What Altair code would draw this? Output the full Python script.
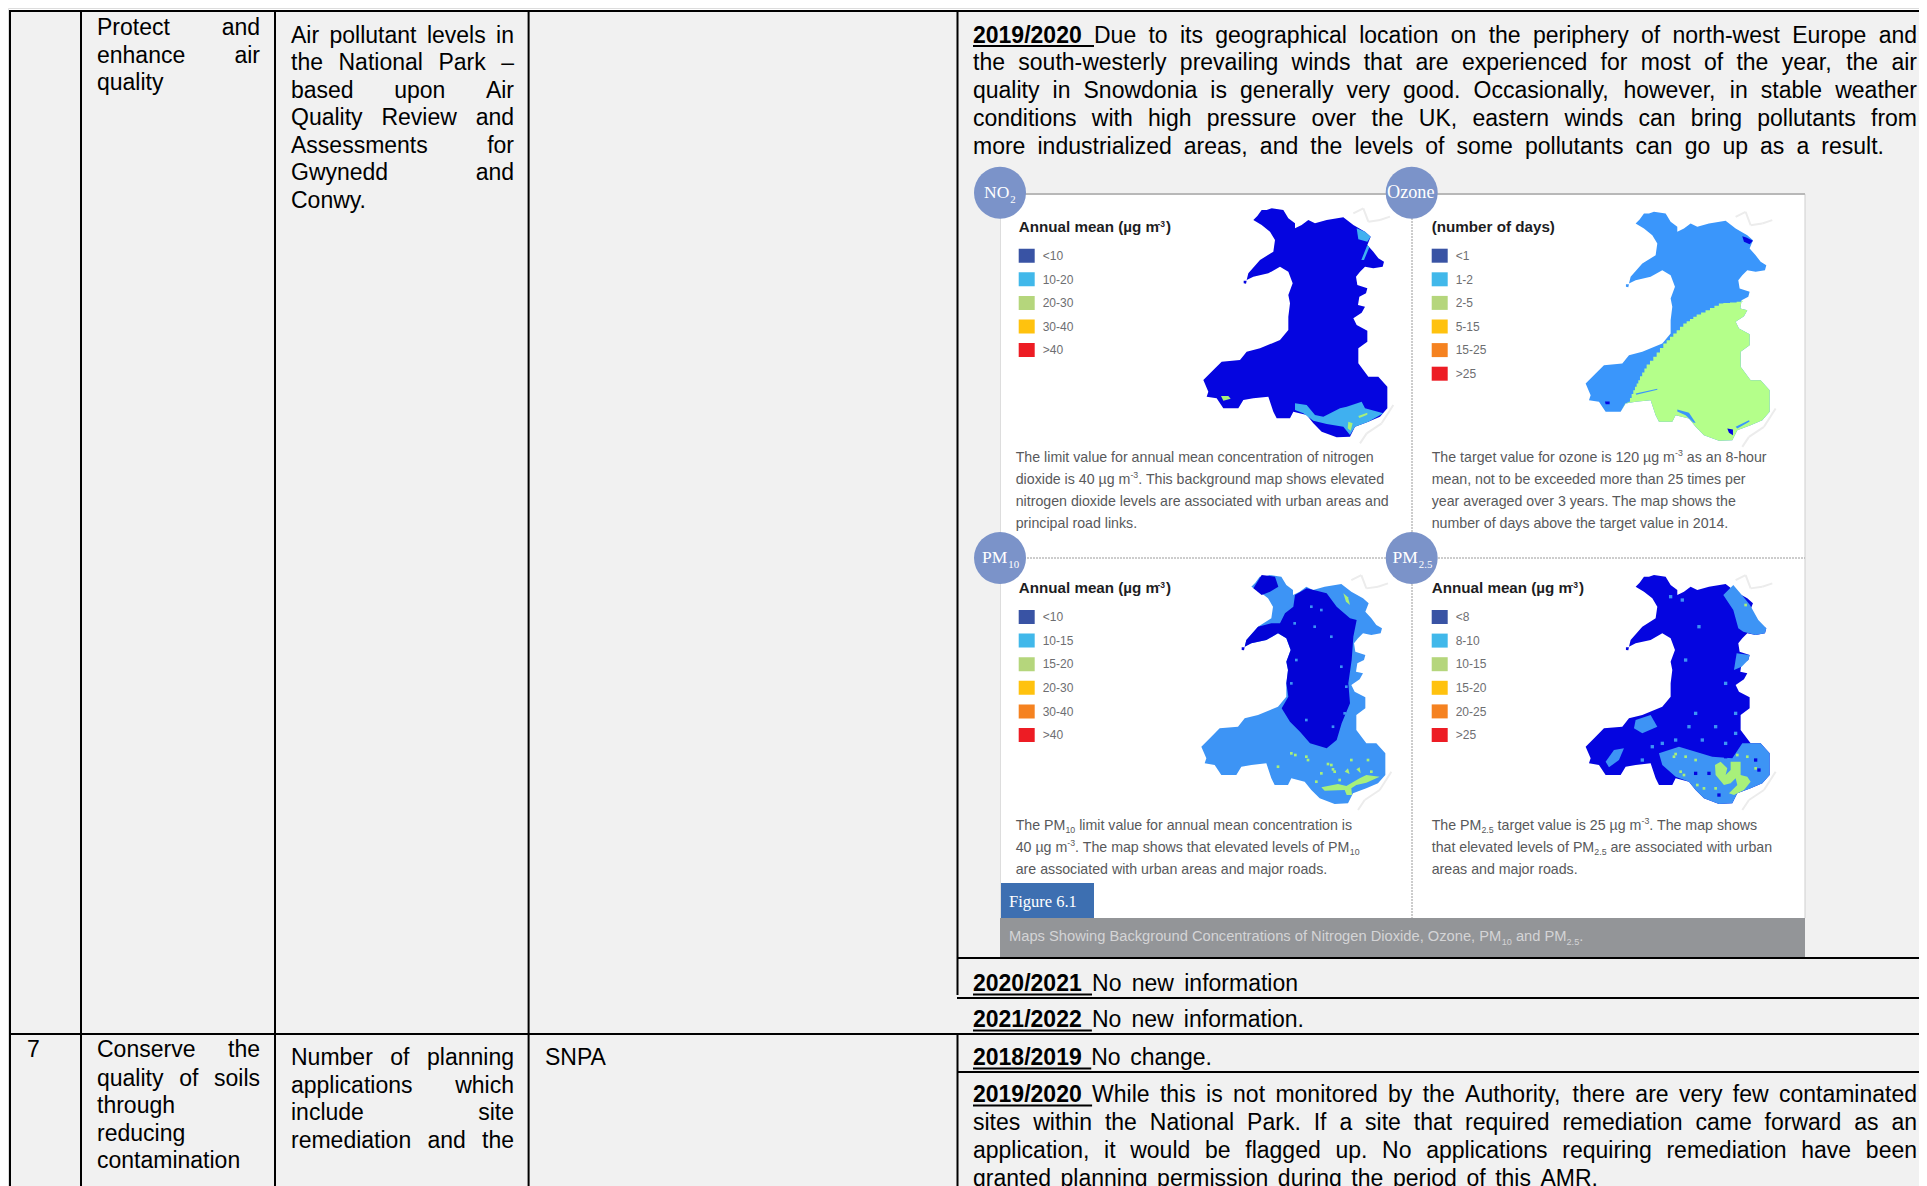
import altair as alt

# ---------- page geometry helpers ----------
W, H = 1919, 1186
SANS, SERIF = "Liberation Sans", "Liberation Serif"
X = alt.X("x:Q", scale=alt.Scale(domain=[8, W], nice=False, zero=False), axis=None)
Y = alt.Y("y:Q", scale=alt.Scale(domain=[H, 8], nice=False, zero=False), axis=None)

AFM = {" ":278,"!":278,"%":889,"'":191,"(":333,")":333,",":278,"-":333,".":278,"/":278,":":278,"<":584,">":584,
"A":667,"B":667,"C":722,"D":722,"E":667,"F":611,"G":778,"H":722,"I":278,"J":500,"K":667,"L":556,"M":833,"N":722,"O":778,
"P":667,"Q":778,"R":722,"S":667,"T":611,"U":722,"V":667,"W":944,"X":667,"Y":667,"Z":611,
"a":556,"b":556,"c":500,"d":556,"e":556,"f":278,"g":556,"h":556,"i":222,"j":222,"k":500,"l":222,"m":833,"n":556,"o":556,
"p":556,"q":556,"r":333,"s":500,"t":278,"u":556,"v":500,"w":722,"x":500,"y":500,"z":500,"–":556,"µ":576}

def tw(s, size):
    return sum(AFM.get(c, 556) for c in s) / 1000 * size

texts = []
underlines = []

def put(x, y, t, size=23, color="#000000", font=SANS, weight="normal"):
    texts.append(dict(x=x, y=y, t=t, size=size, color=color, font=font, weight=weight))

def justified(line, x0, x1, y, size=23, lead=None, just=True, color="#000000"):
    """Word-spaced body line, optionally led by an underlined bold year."""
    words = line.split(" ")
    items = []
    if lead:
        items.append((lead, tw(lead, size), True))
    items += [(w, tw(w, size), False) for w in words]
    total = sum(i[1] for i in items)
    gap = (x1 - x0 - total) / (len(items) - 1) if just and len(items) > 1 else size * 0.278
    x = x0
    for n, (w, wd, bold) in enumerate(items):
        put(x, y, w, size, color, SANS, "bold" if bold else "normal")
        if bold:
            underlines.append(dict(x=x, x2=x + wd + gap, y=y + 3.5, y2=y + 3.5))
        x += wd + gap

# ---------- table text ----------
C2, C2R = 97, 260
C3, C3R = 291, 514
C5, C5R = 973, 1917
GOAL_A = ["Protect and", "enhance air", "quality"]
GOAL_A_Y = [35, 63, 90]
IND_A = ["Air pollutant levels in", "the National Park –", "based upon Air", "Quality Review and",
         "Assessments for", "Gwynedd and", "Conwy."]
IND_A_Y = [42.5, 70, 98, 125, 153, 180, 207.5]
GOAL_B = ["Conserve the", "quality of soils", "through", "reducing", "contamination"]
GOAL_B_Y = [1057, 1086, 1113, 1141, 1168]
IND_B = ["Number of planning", "applications which", "include site", "remediation and the"]
IND_B_Y = [1065, 1093, 1120, 1148]
PARA_A = ["Due to its geographical location on the periphery of north-west Europe and",
          "the south-westerly prevailing winds that are experienced for most of the year, the air",
          "quality in Snowdonia is generally very good. Occasionally, however, in stable weather",
          "conditions with high pressure over the UK, eastern winds can bring pollutants from"]
PARA_A_Y = [42.5, 70, 98, 126]
PARA_A_LAST = "more industrialized areas, and the levels of some pollutants can go up as a result."
PARA_B = ["While this is not monitored by the Authority, there are very few contaminated",
          "sites within the National Park. If a site that required remediation came forward as an",
          "application, it would be flagged up. No applications requiring remediation have been"]
PARA_B_Y = [1102, 1130, 1158]
PARA_B_LAST = "granted planning permission during the period of this AMR."

for l, y, j in zip(GOAL_A, GOAL_A_Y, [1, 1, 0]):
    justified(l, C2, C2R, y, just=bool(j))
for n, (l, y) in enumerate(zip(IND_A, IND_A_Y)):
    justified(l, C3, C3R, y, just=n < 6)
for l, y, j in zip(GOAL_B, GOAL_B_Y, [1, 1, 0, 0, 0]):
    justified(l, C2, C2R, y, just=bool(j))
for l, y in zip(IND_B, IND_B_Y):
    justified(l, C3, C3R, y)
put(27, 1057, "7")
put(545, 1065, "SNPA")
for n, (l, y) in enumerate(zip(PARA_A, PARA_A_Y)):
    justified(l, C5, C5R, y, lead="2019/2020" if n == 0 else None)
justified(PARA_A_LAST, C5, 1884, 153.5)
justified("No new information", C5, 1298, 991, lead="2020/2021")
justified("No new information.", C5, 1304, 1027, lead="2021/2022")
justified("No change.", C5, 1212, 1065, lead="2018/2019")
for n, (l, y) in enumerate(zip(PARA_B, PARA_B_Y)):
    justified(l, C5, C5R, y, lead="2019/2020" if n == 0 else None)
justified(PARA_B_LAST, C5, 1598, 1186)

# ---------- figure ----------
LEG_COL = {"navy": "#3953a4", "sky": "#41b8ea", "lime": "#b5d67c", "amber": "#ffc20e", "orange": "#f58220", "red": "#ed1c24"}
NO2_LEG = [("navy", "<10"), ("sky", "10-20"), ("lime", "20-30"), ("amber", "30-40"), ("red", ">40")]
O3_LEG = [("navy", "<1"), ("sky", "1-2"), ("lime", "2-5"), ("amber", "5-15"), ("orange", "15-25"), ("red", ">25")]
PM10_LEG = [("navy", "<10"), ("sky", "10-15"), ("lime", "15-20"), ("amber", "20-30"), ("orange", "30-40"), ("red", ">40")]
PM25_LEG = [("navy", "<8"), ("sky", "8-10"), ("lime", "10-15"), ("amber", "15-20"), ("orange", "20-25"), ("red", ">25")]

NO2_NOTE = [[("The limit value for annual mean concentration of nitrogen", "n")],
            [("dioxide is 40 µg m", "n"), ("-3", "u"), (". This background map shows elevated", "n")],
            [("nitrogen dioxide levels are associated with urban areas and", "n")],
            [("principal road links.", "n")]]
O3_NOTE = [[("The target value for ozone is 120 µg m", "n"), ("-3", "u"), (" as an 8-hour", "n")],
           [("mean, not to be exceeded more than 25 times per", "n")],
           [("year averaged over 3 years. The map shows the", "n")],
           [("number of days above the target value in 2014.", "n")]]
PM10_NOTE = [[("The PM", "n"), ("10", "d"), (" limit value for annual mean concentration is", "n")],
             [("40 µg m", "n"), ("-3", "u"), (". The map shows that elevated levels of PM", "n"), ("10", "d")],
             [("are associated with urban areas and major roads.", "n")]]
PM25_NOTE = [[("The PM", "n"), ("2.5", "d"), (" target value is 25 µg m", "n"), ("-3", "u"), (". The map shows", "n")],
             [("that elevated levels of PM", "n"), ("2.5", "d"), (" are associated with urban", "n")],
             [("areas and major roads.", "n")]]
CAPTION = [("Maps Showing Background Concentrations of Nitrogen Dioxide, Ozone, PM", "n"), ("10", "d"),
           (" and PM", "n"), ("2.5", "d"), (".", "n")]

def rich(segs, x, y, size, color, font=SANS, weight="normal"):
    for s, kind in segs:
        sz = size if kind == "n" else size * 0.62
        dy = {"n": 0, "u": -size * 0.38, "d": size * 0.28}[kind]
        lead = len(s) - len(s.lstrip(" "))
        x += tw(" " * lead, sz)
        put(x, y + dy, s.strip(" "), sz, color, font, weight)
        x += tw(s.strip(" "), sz)

rects = [dict(x=10, x2=W, y=11, y2=H, c="#f1f1f1"),
         dict(x=1000, x2=1805, y=194, y2=918, c="#ffffff"),
         dict(x=1000, x2=1805, y=918, y2=957, c="#939598"),
         dict(x=1000, x2=1094, y=883, y2=918, c="#3d6fb1")]

PANEL_NOTE_Y = {"top": [461.5, 483.5, 505.5, 527.5], "bot": [829.5, 851.5, 873.5]}
panels = [
    dict(leg=NO2_LEG, note=NO2_NOTE, title="Annual mean (µg m", lx=1018.7, nx=1015.7, ty=231.5, ly0=255.7, ny=PANEL_NOTE_Y["top"], off=(0, 0)),
    dict(leg=O3_LEG, note=O3_NOTE, title="(number of days)", lx=1431.7, nx=1431.7, ty=231.5, ly0=255.7, ny=PANEL_NOTE_Y["top"], off=(382.3, 3.5)),
    dict(leg=PM10_LEG, note=PM10_NOTE, title="Annual mean (µg m", lx=1018.7, nx=1015.7, ty=593.3, ly0=617, ny=PANEL_NOTE_Y["bot"], off=(-2, 366.7)),
    dict(leg=PM25_LEG, note=PM25_NOTE, title="Annual mean (µg m", lx=1431.7, nx=1431.7, ty=593.3, ly0=617, ny=PANEL_NOTE_Y["bot"], off=(382.3, 366.7)),
]
TITLE_SIZE = 15.2
for p in panels:
    put(p["lx"], p["ty"], p["title"], TITLE_SIZE, "#1d1d1f", SANS, "bold")
    if p["title"].startswith("Annual"):
        tx = p["lx"] + tw(p["title"], TITLE_SIZE) * 1.04 + 0.5
        put(tx, p["ty"] - 5, "-3", 8.5, "#1d1d1f", SANS, "bold")
        put(tx + 8.5, p["ty"], ")", TITLE_SIZE, "#1d1d1f", SANS, "bold")
    for i, (key, lab) in enumerate(p["leg"]):
        cy = p["ly0"] + i * 23.6
        rects.append(dict(x=p["lx"], x2=p["lx"] + 16, y=cy - 7, y2=cy + 7, c=LEG_COL[key]))
        put(p["lx"] + 24, cy + 4.2, lab, 12, "#6d6e71")
    for segs, y in zip(p["note"], p["ny"]):
        rich(segs, p["nx"], y, 14.2, "#58595b")

rich(CAPTION, 1009, 941, 14.7, "#d4d4d6")
put(1009, 907, "Figure 6.1", 16.5, "#ffffff", SERIF)

BADGES = [(1000, 192.7), (1411.7, 192.7), (1000, 558), (1411.7, 558)]
badge_rows = [dict(x=a, y=b) for a, b in BADGES]
rich([("NO", "n"), ("2", "d")], 984, 198, 17.5, "#ffffff", SERIF)
rich([("Ozone", "n")], 1387, 198, 18.2, "#ffffff", SERIF)
rich([("PM", "n"), ("10", "d")], 982, 563, 17.5, "#ffffff", SERIF)
rich([("PM", "n"), ("2.5", "d")], 1392.5, 563, 17.5, "#ffffff", SERIF)

# ---------- map outlines (traced in a common frame, 1/3 px) ----------
COAST = [(880,180),(892,168),(905,150),(920,150),(935,145),(955,148),(970,150),(985,175),(1005,190),(1005,205),(1025,195),(1045,180),
 (1065,190),(1100,180),(1150,172),(1180,195),(1215,215),(1232,230),(1222,255),(1240,275),(1255,295),(1272,305),(1268,320),
 (1240,325),(1215,320),(1200,335),(1188,350),(1192,375),(1222,385),(1218,400),(1198,410),(1194,435),(1215,440),(1205,458),
 (1180,475),(1190,495),(1222,512),(1222,545),(1195,565),(1195,610),(1225,650),(1255,650),(1282,680),(1282,745),(1260,770),
 (1225,785),(1185,800),(1170,830),(1130,832),(1085,815),(1060,790),(1040,765),(1000,755),(990,775),(950,775),(940,755),
 (925,710),(880,715),(850,720),(835,745),(790,745),(770,715),(740,710),(745,695),(730,660),(760,630),(785,605),(840,600),
 (860,575),(900,565),(960,540),(985,510),(985,470),(990,430),(985,405),(998,370),(985,335),(960,320),(925,340),(880,350),
 (860,360),(865,340),(900,300),(940,275),(945,240),(930,215),(905,195)]
ISLE = [(851,362),(860,362),(858,371),(851,370)]

NO2_SKY = [[(1190,205),(1215,215),(1232,230),(1222,245),(1195,238)],
           [(1222,255),(1228,262),(1212,300),(1204,300)],
           [(1005,730),(1040,735),(1065,765),(1090,770),(1140,745),(1160,740),(1205,725),(1215,745),(1270,760),(1225,785),(1185,800),
            (1170,825),(1150,800),(1100,792),(1060,782),(1030,760),(1005,750)]]
NO2_LIME = [[(783,708),(805,708),(812,716),(790,722)], [(1165,785),(1178,790),(1172,812),(1163,805)], [(1195,768),(1222,758),(1222,764),(1198,774)]]

O3_LINE = [(1203,415),(1143,420),(1103,440),(1063,460),(1033,480),(1003,510),(973,540),(943,580),(913,615),(893,650),(878,680),(863,715),(850,720)]
O3_SOUTH = [(835,745),(850,720),(880,715),(925,710),(940,755),(950,775),(990,775),(1000,755),(1040,765),(1060,790),(1085,815),
            (1130,832),(1170,830),(1185,800),(1225,785),(1260,770),(1282,745),(1282,680),(1255,650),(1225,650),(1195,610),(1195,565),
            (1222,545),(1222,512),(1190,495),(1180,475),(1205,458),(1215,440),(1194,435),(1198,410)]

def stairs(line, steps=3):
    out = []
    for (a, b), (c, d) in zip(line, line[1:]):
        for k in range(steps):
            out.append((a + (c - a) * k / steps, b + (d - b) * k / steps))
            out.append((a + (c - a) * (k + 1) / steps, b + (d - b) * k / steps))
    return out

O3_LIME = [stairs(O3_LINE) + O3_SOUTH]
O3_NAVY = [[(1200,218),(1212,222),(1232,232),(1222,242),(1205,235)], [(788,714),(802,714),(802,722),(790,722)],
           [(1155,795),(1172,798),(1172,815),(1160,808)]]
O3_BLUE = [[(880,690),(945,676),(945,679),(882,694)], [(1005,738),(1040,748),(1060,778),(1054,778),(1030,755),(1005,744)],
           [(1180,790),(1220,770),(1222,774),(1185,795)]]

PM10_NAVY = [[(886,185),(911,145),(951,150),(961,180),(936,195),(911,205)],
             [(1011,205),(1046,185),(1106,200),(1136,240),(1176,275),(1196,280),(1186,330),(1181,400),(1171,470),(1176,530),(1151,590),
              (1136,640),(1106,665),(1056,650),(1026,615),(996,585),(971,545),(991,510),(985,470),(990,430),(985,405),(998,370),(985,335),
              (960,320),(925,340),(880,350),(860,360),(865,340),(900,300),(940,290),(966,290),(981,260),(1006,240)]]
PM10_LIME = [[(1156,200),(1170,212),(1176,235),(1164,225)],
             [(1090,782),(1140,772),(1165,778),(1205,755),(1225,745),(1265,750),(1225,768),(1195,775),(1180,785),(1182,805),(1166,805),(1160,790),(1100,792)],
             [(1160,735),(1170,725),(1175,742)], [(1195,728),(1205,722),(1208,740)]]

PM25_SKY = [[(1143,205),(1173,175),(1203,210),(1223,235),(1248,280),(1272,305),(1268,320),(1240,325),(1203,315),(1188,305),(1173,250)],
            [(1183,380),(1222,385),(1218,400),(1198,420),(1175,430)],
            [(950,680),(1010,660),(1110,690),(1170,695),(1200,650),(1225,650),(1255,650),(1282,680),(1282,745),(1260,770),(1225,785),(1185,800),
             (1170,830),(1130,832),(1085,815),(1060,790),(1040,765),(1000,750),(960,715)],
            [(790,705),(815,670),(845,665),(830,700),(800,722)], [(880,580),(925,565),(945,600),(900,620),(875,605)]]
PM25_LIME = [[(1118,715),(1135,705),(1155,725),(1150,745),(1165,730),(1165,705),(1195,705),(1195,745),(1215,750),(1225,765),(1205,790),
              (1175,805),(1160,800),(1185,775),(1180,755),(1165,770),(1145,775),(1120,745)]]

MAP_NAVY, MAP_BLUE, MAP_LIME, MAP_SKY = "#0505e0", "#3a96fb", "#b4ff8a", "#3d94f5"
SPOT_LIME = "#a8f07a"

SPECKS_PM10_LIME = [(1230,700),(1180,700),(1120,715),(1045,690),(1000,680),(1090,740),(1130,735),(960,720),(1110,712),(1125,728),
                    (1075,765),(1050,700),(1012,685),(1240,735),(1145,760)]
SPECKS_PM10_SKY = [(1010,290),(1060,240),(1070,300),(1120,330),(1150,420),(1165,480),(1160,560),(1125,600),(1045,580),(1000,470),(1015,400),(1090,250)]
SPECKS_PM25_SKY = [(1030,400),(1120,600),(960,650),(1070,300),(1180,560),(1180,620),(1060,560),(930,660),(1000,640),(1150,650),(1020,220),(900,700),
                   (985,210),(1150,470),(1040,600),(1080,640)]
SPECKS_PM25_LIME = [(995,690),(1030,690),(1060,700),(1015,735),(1025,745),(1085,785),(1120,785),(1065,775),(1240,725),(1215,690),(1185,685),(1000,682),(1210,235)]
SPECKS_PM25_NAVY = [(1240,700),(1100,740),(1060,740),(1250,730),(1130,805),(1150,690)]

def feature(poly, off, color):
    ring = [[960 + a / 3 + off[0], 160 + b / 3 + off[1]] for a, b in poly]
    ring.append(ring[0])
    return {"type": "Feature", "geometry": {"type": "Polygon", "coordinates": [ring]}, "properties": {"c": color}}

def spot(pt, r, off, color):
    a, b = pt
    return feature([(a - r, b - r), (a + r, b - r), (a + r, b + r), (a - r, b + r)], off, color)

feats = []
off = panels[0]["off"]
feats += [feature(COAST, off, MAP_NAVY), feature(ISLE, off, MAP_NAVY)]
feats += [feature(p, off, "#3fb0f0") for p in NO2_SKY] + [feature(p, off, SPOT_LIME) for p in NO2_LIME]
off = panels[1]["off"]
feats += [feature(COAST, off, MAP_BLUE), feature(ISLE, off, MAP_BLUE)]
feats += [feature(p, off, MAP_LIME) for p in O3_LIME] + [feature(p, off, MAP_BLUE) for p in O3_BLUE]
feats += [feature(p, off, MAP_NAVY) for p in O3_NAVY]
off = panels[2]["off"]
feats += [feature(COAST, off, MAP_SKY), feature(ISLE, off, MAP_NAVY)]
feats += [feature(p, off, "#0303d6") for p in PM10_NAVY] + [feature(p, off, SPOT_LIME) for p in PM10_LIME]
feats += [spot(p, 4, off, SPOT_LIME) for p in SPECKS_PM10_LIME] + [spot(p, 4, off, MAP_SKY) for p in SPECKS_PM10_SKY]
off = panels[3]["off"]
feats += [feature(COAST, off, MAP_NAVY), feature(ISLE, off, MAP_NAVY)]
feats += [feature(p, off, MAP_SKY) for p in PM25_SKY] + [feature(p, off, SPOT_LIME) for p in PM25_LIME]
feats += [spot(p, 5, off, MAP_SKY) for p in SPECKS_PM25_SKY] + [spot(p, 4, off, SPOT_LIME) for p in SPECKS_PM25_LIME]
feats += [spot(p, 5, off, MAP_NAVY) for p in SPECKS_PM25_NAVY]

# ---------- rules ----------
BLACK_W2 = []
for cx in [10, 81, 275, 528.6]:
    BLACK_W2.append(dict(x=cx, x2=cx, y=11, y2=H))
BLACK_W2 += [dict(x=957.5, x2=957.5, y=11, y2=995), dict(x=957.5, x2=957.5, y=1035, y2=H)]
BLACK_W2 += [dict(x=9, x2=W, y=11, y2=11), dict(x=9, x2=W, y=1034, y2=1034)]
BLACK_W2 += [dict(x=957, x2=W, y=v, y2=v) for v in [958, 998, 1072]]

TRACES = [[(1180,160),(1210,145),(1225,185),(1260,180),(1290,170)], [(1300,735),(1265,790),(1220,820),(1200,850)]]
faint = []
for p in panels:
    for tr in TRACES:
        for (a, b), (c, d) in zip(tr, tr[1:]):
            ox, oy = p["off"]
            faint.append(dict(x=960 + a / 3 + ox, x2=960 + c / 3 + ox, y=160 + b / 3 + oy, y2=160 + d / 3 + oy))

def rule_layer(rows, color, width, dash=None):
    kw = dict(color=color, strokeWidth=width)
    if dash:
        kw["strokeDash"] = dash
    return alt.Chart(alt.Data(values=rows)).mark_rule(**kw).encode(x=X, x2="x2:Q", y=Y, y2="y2:Q")

layers = [
    alt.Chart(alt.Data(values=rects)).mark_rect().encode(x=X, x2="x2:Q", y=Y, y2="y2:Q", color=alt.Color("c:N", scale=None)),
    rule_layer(faint, "#ececec", 2),
    rule_layer([dict(x=1000.5, x2=1000.5, y=194, y2=918)], "#dddddd", 1),
    rule_layer([dict(x=1805, x2=1805, y=194, y2=918)], "#cfcfcf", 1),
    rule_layer([dict(x=1000, x2=1805, y=194, y2=194)], "#b8b8b8", 2),
    rule_layer([dict(x=1412, x2=1412, y=194, y2=918), dict(x=1000, x2=1805, y=558, y2=558)], "#9a9a9a", 1, [2, 1]),
    rule_layer(BLACK_W2, "#000000", 2),
    rule_layer(underlines, "#000000", 2),
    alt.Chart(alt.Data(values=feats)).mark_geoshape(strokeWidth=0).encode(color=alt.Color("properties.c:N", scale=None))
      .project(type="identity", scale=1, translate=[-8, -8]),
    alt.Chart(alt.Data(values=badge_rows)).mark_circle(size=2704, color="#7b93c9", opacity=1).encode(x=X, y=Y),
]
groups = {}
for r in texts:
    groups.setdefault((r["font"], r["weight"]), []).append(r)
for (font, weight), rows in groups.items():
    layers.append(alt.Chart(alt.Data(values=rows)).mark_text(align="left", baseline="alphabetic", font=font, fontWeight=weight)
        .encode(x=X, y=Y, text="t:N", size=alt.Size("size:Q", scale=None), color=alt.Color("color:N", scale=None)))

chart = alt.layer(*layers).properties(width=W - 8, height=H - 8, padding=0, autosize=alt.AutoSizeParams(type="none")) \
    .configure_view(stroke=None).configure(background="#ffffff")
chart.save("out.html", embed_options={"renderer": "svg", "actions": False})
